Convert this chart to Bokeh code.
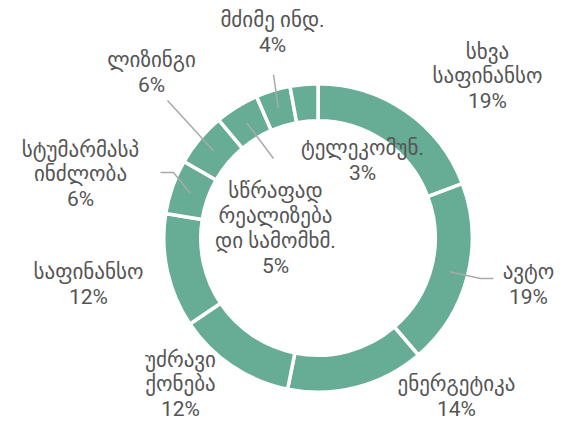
import numpy as np
from bokeh.plotting import figure
from bokeh.models import Range1d, ColumnDataSource
from bokeh.core.properties import value
from bokeh.embed import file_html
from bokeh.resources import INLINE

# ---------------- data ----------------
categories = ["სხვა\nსაფინანსო", "ავტო", "ენერგეტიკა", "უძრავი\nქონება", "საფინანსო",
              "სტუმარმასპ\nინძლობა", "ლიზინგი", "სწრაფად\nრეალიზება\nდი სამომხმ.",
              "მძიმე ინდ.", "ტელეკომუნ."]
shares = [19.2, 19.4, 14.4, 12.4, 11.9, 5.7, 5.6, 4.6, 3.6, 2.9]
pct_labels = ["19%", "19%", "14%", "12%", "12%", "6%", "6%", "5%", "4%", "3%"]

# ---------------- layout (pixels from top-left) ----------------
W, H = 574, 421
CX, CY = 317.5, 237.5
R_IN, R_OUT = 119.0, 152.5
GAP = 3.5
label_pos = [(487, 76), (528, 284), (456, 396), (180, 384), (88, 284),
             (80, 174), (151, 72), (275, 228), (272, 32), (362, 160)]
leaders = {1: [(480, 278), (493, 278)],
           5: [(173, 172), (160, 172)],
           6: [(167, 100)],
           7: [(273, 158)],
           8: [(273, 74)]}

FILL = "#67ac94"
TEXT = "#555555"
FONT = "Roboto, DejaVu Sans"

def Y(y):
    return H - y

vals = np.array(shares, dtype=float)
frac = vals / vals.sum()
cum = np.cumsum(frac)
prev = np.concatenate([[0.0], cum[:-1]])
start = np.pi / 2 - 2 * np.pi * prev
end = np.pi / 2 - 2 * np.pi * cum
mid = (start + end) / 2

p = figure(width=W, height=H, x_range=Range1d(0, W), y_range=Range1d(0, H),
           x_axis_type=None, y_axis_type=None, toolbar_location=None,
           output_backend="svg", min_border=0)
p.grid.visible = False
p.outline_line_color = None
p.background_fill_color = "white"
p.border_fill_color = "white"

src = ColumnDataSource(dict(x=[CX] * len(vals), y=[Y(CY)] * len(vals),
                            start=start, end=end, cat=categories))
p.annular_wedge(x="x", y="y", inner_radius=R_IN - GAP / 2, outer_radius=R_OUT + GAP / 2,
                start_angle="start", end_angle="end", direction="clock",
                fill_color=FILL, line_color="white", line_width=GAP, source=src)

# leader lines
r_mid = (R_IN + R_OUT) / 2
xs, ys = [], []
for i, pts in leaders.items():
    lx = [CX + r_mid * np.cos(mid[i])]
    ly = [Y(CY) + r_mid * np.sin(mid[i])]
    for (px, py) in pts:
        lx.append(px)
        ly.append(Y(py))
    xs.append(lx)
    ys.append(ly)
p.multi_line(xs=xs, ys=ys, line_color="#aaaaaa", line_width=1.5)

# labels
texts = [c + "\n" + pl for c, pl in zip(categories, pct_labels)]
lsrc = ColumnDataSource(dict(x=[lp[0] for lp in label_pos], y=[Y(lp[1]) for lp in label_pos],
                             t=texts))
p.text(x="x", y="y", text="t", source=lsrc, text_align="center", text_baseline="middle",
       text_font=value(FONT), text_font_size="21px", text_color=TEXT, text_line_height=1.03)

open("out.html", "w").write(file_html(p, INLINE))
